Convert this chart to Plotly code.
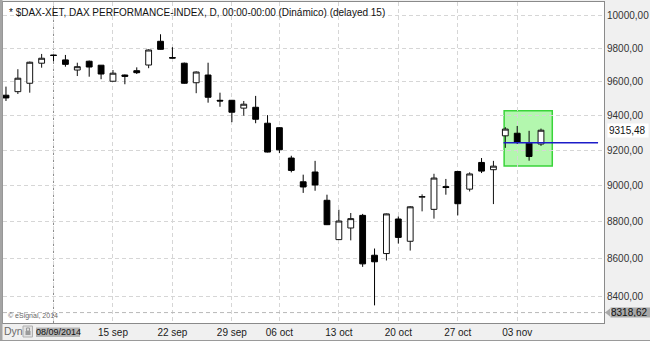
import numpy as np
import plotly.graph_objects as go

# ---------------- data ----------------
dates = ["2014-09-02", "2014-09-03", "2014-09-04", "2014-09-05",
         "2014-09-08", "2014-09-09", "2014-09-10", "2014-09-11", "2014-09-12",
         "2014-09-15", "2014-09-16", "2014-09-17", "2014-09-18", "2014-09-19",
         "2014-09-22", "2014-09-23", "2014-09-24", "2014-09-25", "2014-09-26",
         "2014-09-29", "2014-09-30", "2014-10-01", "2014-10-02",
         "2014-10-06", "2014-10-07", "2014-10-08", "2014-10-09", "2014-10-10",
         "2014-10-13", "2014-10-14", "2014-10-15", "2014-10-16", "2014-10-17",
         "2014-10-20", "2014-10-21", "2014-10-22", "2014-10-23", "2014-10-24",
         "2014-10-27", "2014-10-28", "2014-10-29", "2014-10-30", "2014-10-31",
         "2014-11-03", "2014-11-04", "2014-11-05"]

opens = [9520, 9541, 9591, 9711,
         9760, 9731, 9670, 9723, 9699,
         9603, 9640, 9666, 9700, 9844,
         9745, 9711, 9594, 9640, 9490,
         9490, 9444, 9449, 9356,
         9330, 9156, 9022, 9077, 8919,
         8704, 8767, 8836, 8620, 8629,
         8816, 8695, 8936, 8869, 8995,
         9080, 8981, 9131, 9090, 9283,
         9298, 9241, 9236]

highs = [9571, 9675, 9721, 9767,
         9763, 9761, 9714, 9727, 9700,
         9670, 9643, 9686, 9795, 9887,
         9808, 9715, 9662, 9714, 9535,
         9492, 9486, 9516, 9403,
         9333, 9169, 9062, 9140, 8950,
         8867, 8849, 8844, 8656, 8846,
         8830, 8887, 8952, 9067, 9038,
         9083, 9075, 9156, 9140, 9333,
         9340, 9312, 9325]

lows = [9486, 9527, 9535, 9684,
        9722, 9690, 9634, 9630, 9615,
        9600, 9585, 9646, 9681, 9793,
        9740, 9588, 9532, 9476, 9452,
        9362, 9400, 9356, 9188,
        9184, 9075, 8960, 8972, 8783,
        8702, 8700, 8558, 8356, 8592,
        8683, 8645, 8858, 8818, 8950,
        8836, 8968, 9071, 8898, 9214,
        9236, 9141, 9225]

closes = [9504, 9621, 9717, 9741,
          9758, 9704, 9690, 9688, 9646,
          9651, 9632, 9654, 9791, 9795,
          9742, 9591, 9658, 9508, 9486,
          9420, 9467, 9379, 9190,
          9203, 9086, 8993, 9004, 8785,
          8805, 8818, 8574, 8585, 8844,
          8716, 8883, 8940, 9043, 8990,
          8900, 9066, 9082, 9110, 9322,
          9245, 9165, 9315.48]

tick_dates = ["2014-09-08", "2014-09-15", "2014-09-22", "2014-09-29", "2014-10-06",
              "2014-10-13", "2014-10-20", "2014-10-27", "2014-11-03"]
tick_labels = ["08/09/2014", "15 sep", "22 sep", "29 sep", "06 oct",
               "13 oct", "20 oct", "27 oct", "03 nov"]

price_ticks = [8400, 8600, 8800, 9000, 9200, 9400, 9600, 9800, 10000]
price_labels = ["8400,00", "8600,00", "8800,00", "9000,00", "9200,00",
                "9400,00", "9600,00", "9800,00", "10000,00"]

last_price = 9315.48
last_label = "9315,48"
low_marker = 8318.62
low_label = "8318,62"
hline_level = 9243
box_low, box_high = 9111, 9428
box_first, box_last = "2014-10-31", "2014-11-05"

title_text = "* $DAX-XET, DAX PERFORMANCE-INDEX, D, 00:00-00:00 (Dinámico) (delayed 15)"

# ---------------- geometry ----------------
W, H = 650, 341
ML, MR, MT, MB = 3, 46, 2, 18
y_min, y_max = 8265, 10087
ly0, ly1 = np.log10(y_min), np.log10(y_max)
x_range = [-0.25, 50.3]
FONT = "Arial, Liberation Sans, sans-serif"


def py(v):
    return (np.log10(v) - ly0) / (ly1 - ly0)


def ppx(px):
    return (px - ML) / (W - ML - MR)


def ppy(px):
    return (H - MB - px) / (H - MT - MB)


fig = go.Figure(go.Candlestick(
    x=dates, open=opens, high=highs, low=lows, close=closes,
    increasing=dict(fillcolor="white", line=dict(color="#111111", width=1)),
    decreasing=dict(fillcolor="#000000", line=dict(color="#000000", width=1)),
    whiskerwidth=0, hoverinfo="skip", showlegend=False,
))

grid = "#d6d6d6"
fig.update_layout(
    width=W, height=H,
    margin=dict(l=ML, r=MR, t=MT, b=MB, pad=0),
    paper_bgcolor="#f0f0f0", plot_bgcolor="white",
    showlegend=False,
    font=dict(family=FONT, size=10, color="#222222"),
    xaxis=dict(type="category", range=x_range, rangeslider=dict(visible=False),
               tickvals=tick_dates, ticktext=[""] + tick_labels[1:],
               showgrid=True, gridcolor=grid, griddash="4px,3px", gridwidth=1,
               showline=True, linecolor="#8a8a8a", linewidth=1, mirror=True,
               ticks="", zeroline=False,
               tickfont=dict(family=FONT, size=10, color="#1a1a1a")),
    yaxis=dict(type="log", range=[ly0, ly1], side="right",
               tickvals=price_ticks, ticktext=price_labels,
               showgrid=True, gridcolor=grid, griddash="4px,3px", gridwidth=1,
               showline=True, linecolor="#8a8a8a", linewidth=1, mirror=True,
               ticks="", zeroline=False,
               tickfont=dict(family=FONT, size=10, color="#333333")),
)

i_first = dates.index(box_first)
i_last = dates.index(box_last)

shapes = [
    # darker separator at first visible Monday
    dict(type="line", xref="x", yref="paper", x0=tick_dates[0], x1=tick_dates[0],
         y0=0, y1=1, line=dict(color="#8c8c8c", width=1, dash="4px,3px"), layer="below"),
    # green highlight box
    dict(type="rect", xref="x", yref="y", x0=i_first - 0.1, x1=i_last + 0.95,
         y0=box_low, y1=box_high, fillcolor="#b3f7ae",
         line=dict(color="#3ad43a", width=1.5), layer="below"),
    # blue horizontal line
    dict(type="line", xref="x", yref="y", x0=i_first - 0.15, x1=x_range[1] - 0.5,
         y0=hline_level, y1=hline_level, line=dict(color="#1c1cc8", width=1.6)),
    # low marker dashed line
    dict(type="line", xref="paper", yref="paper", x0=0, x1=ppx(606),
         y0=py(low_marker), y1=py(low_marker),
         line=dict(color="#b8b8b8", width=1, dash="4px,3px")),
    # low marker arrow tip
    dict(type="path", xref="paper", yref="paper",
         path=f"M {ppx(605)} {py(low_marker)} L {ppx(610)} {py(low_marker) + 4/321} "
              f"L {ppx(610)} {py(low_marker) - 4/321} Z",
         fillcolor="#a8a8a8", line=dict(width=0)),
    # left frame bar
    dict(type="rect", xref="paper", yref="paper", x0=ppx(0), x1=ppx(2.5), y0=ppy(341), y1=ppy(0),
         fillcolor="#a4a4a4", line=dict(width=0)),
    # outer bottom border
    dict(type="line", xref="paper", yref="paper", x0=ppx(0), x1=ppx(650), y0=ppy(340.5), y1=ppy(340.5),
         line=dict(color="#9a9a9a", width=1)),
    # lock icon
    dict(type="rect", xref="paper", yref="paper", x0=ppx(23), x1=ppx(32.5), y0=ppy(337), y1=ppy(326),
         fillcolor="#e2e2e2", line=dict(color="#b0b0b0", width=1)),
    dict(type="rect", xref="paper", yref="paper", x0=ppx(25.5), x1=ppx(30.5), y0=ppy(335), y1=ppy(331),
         fillcolor="#9a9a9a", line=dict(width=0)),
    dict(type="rect", xref="paper", yref="paper", x0=ppx(26.5), x1=ppx(29.5), y0=ppy(331), y1=ppy(328),
         fillcolor="rgba(0,0,0,0)", line=dict(color="#9a9a9a", width=1)),
    # date box background
    dict(type="rect", xref="paper", yref="paper", x0=ppx(36), x1=ppx(80), y0=ppy(337), y1=ppy(327.5),
         fillcolor="#b4b4b4", line=dict(width=0)),
]
fig.update_layout(shapes=shapes)

annotations = [
    dict(text=title_text, xref="paper", yref="paper", x=ppx(7), y=ppy(12),
         xanchor="left", yanchor="middle", showarrow=False,
         font=dict(family=FONT, size=10, color="#111111")),
    dict(text="© eSignal, 2014", xref="paper", yref="paper", x=ppx(6), y=ppy(316),
         xanchor="left", yanchor="middle", showarrow=False,
         font=dict(family=FONT, size=7, color="#666666")),
    dict(text=last_label, xref="paper", yref="paper", x=ppx(607), y=py(last_price),
         xanchor="left", yanchor="middle", showarrow=False, bgcolor="white",
         borderpad=1, width=38, align="left",
         font=dict(family=FONT, size=10, color="#111111")),
    dict(text=low_label, xref="paper", yref="paper", x=ppx(610), y=py(low_marker),
         xanchor="left", yanchor="middle", showarrow=False, bgcolor="#a8a8a8",
         borderpad=0, width=39, height=9, align="left",
         font=dict(family=FONT, size=10, color="#111111")),
    dict(text=tick_labels[0], xref="paper", yref="paper", x=ppx(58), y=ppy(332),
         xanchor="center", yanchor="middle", showarrow=False,
         font=dict(family=FONT, size=9, color="#111111")),
    dict(text="Dyn", xref="paper", yref="paper", x=ppx(2.5), y=ppy(331),
         xanchor="left", yanchor="middle", showarrow=False, borderpad=0,
         font=dict(family=FONT, size=10.5, color="#6a6a6a")),
]
fig.update_layout(annotations=annotations)

fig.write_html("out.html")
